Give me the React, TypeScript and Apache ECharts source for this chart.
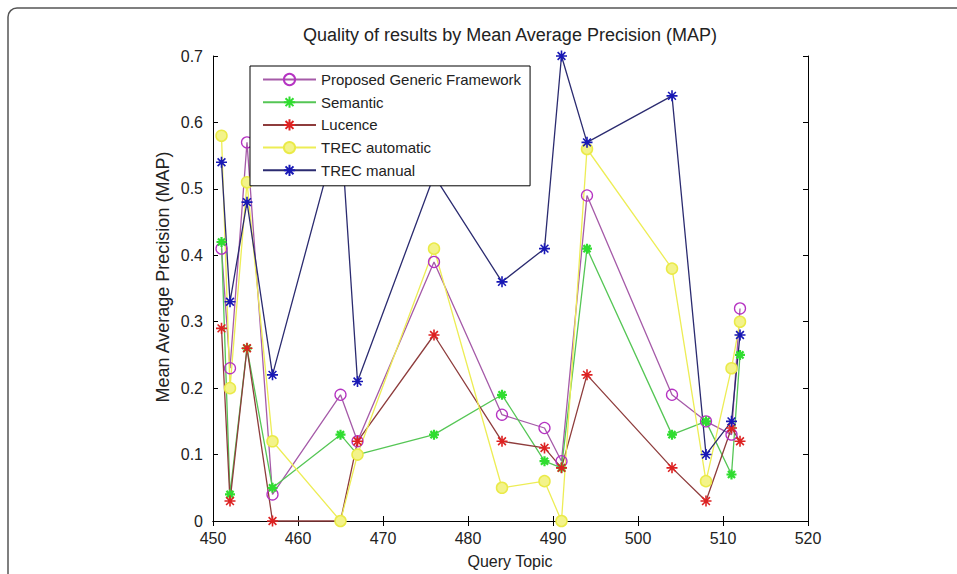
import React, { useEffect, useRef } from "react";
import * as echarts from "echarts";

const queryTopics = [451, 452, 454, 457, 465, 467, 476, 484, 489, 491, 494, 504, 508, 511, 512];
const proposedGeneric = [0.41, 0.23, 0.57, 0.04, 0.19, 0.12, 0.39, 0.16, 0.14, 0.09, 0.49, 0.19, 0.15, 0.13, 0.32];
const semantic = [0.42, 0.04, 0.26, 0.05, 0.13, 0.1, 0.13, 0.19, 0.09, 0.08, 0.41, 0.13, 0.15, 0.07, 0.25];
const lucence = [0.29, 0.03, 0.26, 0, 0, 0.12, 0.28, 0.12, 0.11, 0.08, 0.22, 0.08, 0.03, 0.14, 0.12];
const trecAutomatic = [0.58, 0.2, 0.51, 0.12, 0, 0.1, 0.41, 0.05, 0.06, 0, 0.56, 0.38, 0.06, 0.23, 0.3];
const trecManual = [0.54, 0.33, 0.48, 0.22, 0.6, 0.21, 0.52, 0.36, 0.41, 0.7, 0.57, 0.64, 0.1, 0.15, 0.28];

const seriesNames = ["Proposed Generic Framework", "Semantic", "Lucence", "TREC automatic", "TREC manual"];
const titleText = "Quality of results by Mean Average Precision (MAP)";
const xAxisTitle = "Query Topic";
const yAxisTitle = "Mean Average Precision (MAP)";

const FONT = '"Liberation Sans", Arial, sans-serif';
const STAR = "path://M5,0L5,10M0,5L10,5M1.46,1.46L8.54,8.54M1.46,8.54L8.54,1.46";

const pairs = (ys: number[]) => queryTopics.map((x, i) => [x, ys[i]]);

export default function App() {
  const ref = useRef<HTMLDivElement>(null);
  useEffect(() => {
    if (!ref.current) return;
    const chart = echarts.init(ref.current, null, { renderer: "svg" });

    const mk = (
      name: string,
      ys: number[],
      lineColor: string,
      symbol: string,
      itemStyle: any,
      symbolSize: number
    ) => ({
      type: "line",
      name,
      data: pairs(ys),
      symbol,
      symbolSize,
      clip: false,
      lineStyle: { color: lineColor, width: 1.3 },
      itemStyle,
      emphasis: { disabled: true },
    });

    const axisCommon = {
      axisLine: { lineStyle: { color: "#000", width: 1 } },
      axisTick: { inside: true, length: 5, lineStyle: { color: "#000" } },
      splitLine: { show: false },
    };

    chart.setOption({
      animation: false,
      backgroundColor: "#fff",
      grid: { left: 213, top: 56, right: 149, bottom: 53, containLabel: false },
      xAxis: [
        {
          type: "value",
          min: 450,
          max: 520,
          interval: 10,
          position: "bottom",
          ...axisCommon,
          axisLabel: { color: "#222", fontSize: 16, fontFamily: FONT, margin: 9 },
        },
        {
          type: "value",
          min: 450,
          max: 520,
          interval: 10,
          position: "top",
          ...axisCommon,
          axisLabel: { show: false },
        },
      ],
      yAxis: [
        {
          type: "value",
          min: 0,
          max: 0.7,
          interval: 0.1,
          position: "left",
          ...axisCommon,
          axisLabel: { color: "#222", fontSize: 16, fontFamily: FONT, margin: 10 },
        },
        {
          type: "value",
          min: 0,
          max: 0.7,
          interval: 0.1,
          position: "right",
          ...axisCommon,
          axisLabel: { show: false },
        },
      ],
      legend: {
        orient: "vertical",
        left: 250,
        top: 66,
        padding: [6, 9, 8, 12],
        itemWidth: 53,
        itemHeight: 14,
        itemGap: 7.7,
        backgroundColor: "#fff",
        borderColor: "#000",
        borderWidth: 1,
        borderRadius: 0,
        textStyle: { color: "#222", fontSize: 15, fontFamily: FONT },
        data: seriesNames,
        selectedMode: false,
        z: 10,
      },
      graphic: [
        {
          type: "rect",
          silent: true,
          shape: { x: 8, y: 8, width: 1200, height: 900, r: [9, 0, 0, 0] },
          style: { fill: "none", stroke: "#555", lineWidth: 1.5 },
        },
        {
          type: "text",
          x: 510,
          y: 35,
          style: {
            text: titleText,
            fontSize: 18,
            fontFamily: FONT,
            fill: "#222",
            textAlign: "center",
            textVerticalAlign: "middle",
          },
        },
        {
          type: "text",
          x: 510,
          y: 561,
          style: {
            text: xAxisTitle,
            fontSize: 16,
            fontFamily: FONT,
            fill: "#222",
            textAlign: "center",
            textVerticalAlign: "middle",
          },
        },
        {
          type: "text",
          x: 163,
          y: 277,
          rotation: Math.PI / 2,
          style: {
            text: yAxisTitle,
            fontSize: 18,
            fontFamily: FONT,
            fill: "#222",
            textAlign: "center",
            textVerticalAlign: "middle",
          },
        },
      ],
      series: [
        mk(seriesNames[0], proposedGeneric, "#a55aa8", "circle",
          { color: "rgba(255,255,255,0)", borderColor: "#b533c2", borderWidth: 1.3 }, 11),
        mk(seriesNames[1], semantic, "#55c655", STAR,
          { color: "#30dd30", borderColor: "#30dd30", borderWidth: 2.2 }, 10),
        mk(seriesNames[2], lucence, "#8e3c3c", STAR,
          { color: "#dd2222", borderColor: "#dd2222", borderWidth: 1.6 }, 11),
        mk(seriesNames[3], trecAutomatic, "#eded55", "circle",
          { color: "#f3f38a", borderColor: "#eaea48", borderWidth: 1.5 }, 11),
        mk(seriesNames[4], trecManual, "#2b2b70", STAR,
          { color: "#1818b5", borderColor: "#1818b5", borderWidth: 1.6 }, 11),
      ],
    });
    return () => chart.dispose();
  }, []);

  return (
    <div
      ref={ref}
      style={{ position: "fixed", left: 0, top: 0, width: 957, height: 574, background: "#fff" }}
    />
  );
}
